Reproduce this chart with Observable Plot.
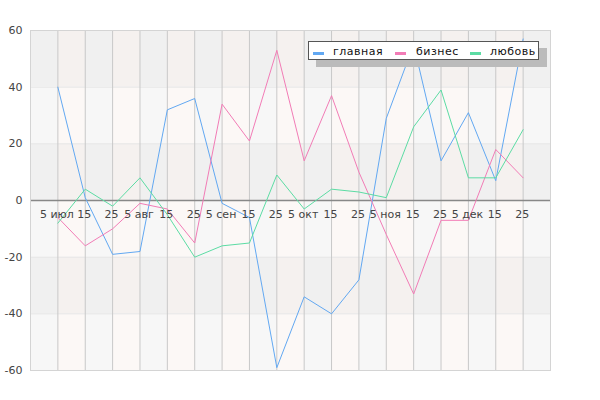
<!DOCTYPE html>
<html>
<head>
<meta charset="utf-8">
<script src="https://cdn.jsdelivr.net/npm/d3@7"></script>
<script src="https://cdn.jsdelivr.net/npm/@observablehq/plot@0.6"></script>
<style>
  html, body { margin: 0; padding: 0; background: #fff; }
  #wrap { position: relative; width: 600px; height: 400px; font-family: "DejaVu Sans", sans-serif; }
  #legend {
    position: absolute; left: 308px; top: 41px; width: 229px; height: 17px;
    border: 1px solid #555; background: #fff; box-shadow: 8px 7px 0 #bbb;
    font-size: 11px; color: #111;
  }
  .sw { position: absolute; top: 10px; width: 11px; height: 3px; }
  .tx { position: absolute; top: 2px; line-height: 15px; white-space: nowrap; letter-spacing: 0.5px; }
</style>
</head>
<body>
<div id="wrap"><div id="chart"></div><div id="legend"></div></div>
<script>
const tickLabels = ["5 июл","15","25","5 авг","15","25","5 сен","15","25","5 окт","15","25","5 ноя","15","25","5 дек","15","25"];
const seriesNames = ["главная", "бизнес", "любовь"];
const seriesColors = ["#62a8f2", "#f27cb6", "#5cdca4"];
const mainValues = [40, 1, -19, -18, 32, 36, -1, -6, -59, -34, -40, -28, 29, 55, 14, 31, 7, 57];
const bizValues  = [-6, -16, -10, -1, -3, -15, 34, 21, 53, 14, 37, 10, -12, -33, -7, -7, 18, 8];
const loveValues = [-8, 4, -2, 8, -5, -20, -16, -15, 9, -3, 4, 3, 1, 26, 39, 8, 8, 25];
const yTicks = [-60, -40, -20, 0, 20, 40, 60];

const allSeries = [mainValues, bizValues, loveValues];
const rows = [];
allSeries.forEach((vals, s) => vals.forEach((v, i) => rows.push({i, v, s: seriesNames[s]})));

const hBands = [];
for (let k = 0; k < yTicks.length - 1; k++) {
  const top = yTicks[k + 1];
  const dark = ((60 - top) / 20) % 2 === 0;
  hBands.push({y1: yTicks[k], y2: top, dark});
}
const pinkCells = [];
for (let i = 0; i < tickLabels.length - 1; i += 2) {
  for (const b of hBands) pinkCells.push({x1: i, x2: i + 1, y1: b.y1, y2: b.y2, dark: b.dark});
}
const idx = tickLabels.map((_, i) => i);

const chart = Plot.plot({
  width: 600, height: 400,
  marginLeft: 30, marginRight: 50, marginTop: 30, marginBottom: 30,
  style: {fontFamily: "DejaVu Sans, sans-serif", fontSize: "11px", color: "#444", background: "transparent"},
  x: {domain: [-1, tickLabels.length], axis: null},
  y: {domain: [-60, 60], ticks: yTicks, tickSize: 0, tickPadding: 8, label: null, tickFormat: d => String(d)},
  color: {domain: seriesNames, range: seriesColors},
  marks: [
    Plot.rect(hBands, {x1: -1, x2: tickLabels.length, y1: "y1", y2: "y2", fill: d => d.dark ? "#f0f0f0" : "#f7f7f7"}),
    Plot.rect(pinkCells, {x1: "x1", x2: "x2", y1: "y1", y2: "y2", fill: d => d.dark ? "#f5f1ef" : "#fcf8f6"}),
    Plot.ruleY(yTicks.slice(1, -1), {stroke: "#e6e6e6", strokeWidth: 1}),
    Plot.ruleX(idx, {stroke: "#c8c8c8", strokeWidth: 1}),
    Plot.ruleY([0], {stroke: "#888", strokeWidth: 1.5}),
    Plot.line(rows, {x: "i", y: "v", z: "s", stroke: "s", strokeWidth: 1}),
    Plot.text(idx, {x: d => d, y: 0, text: d => tickLabels[d], dy: 14, dx: -1, fill: "#444", fontSize: 11}),
    Plot.frame({stroke: "#d4d4d4"})
  ]
});
document.getElementById("chart").appendChild(chart);

const legend = document.getElementById("legend");
const swX = [4, 86, 161];
const txX = [24, 107, 181];
seriesNames.forEach((n, k) => {
  const sw = document.createElement("span");
  sw.className = "sw";
  sw.style.left = swX[k] + "px";
  sw.style.background = seriesColors[k];
  const t = document.createElement("span");
  t.className = "tx";
  t.style.left = txX[k] + "px";
  t.textContent = n;
  legend.appendChild(sw); legend.appendChild(t);
});
</script>
</body>
</html>
